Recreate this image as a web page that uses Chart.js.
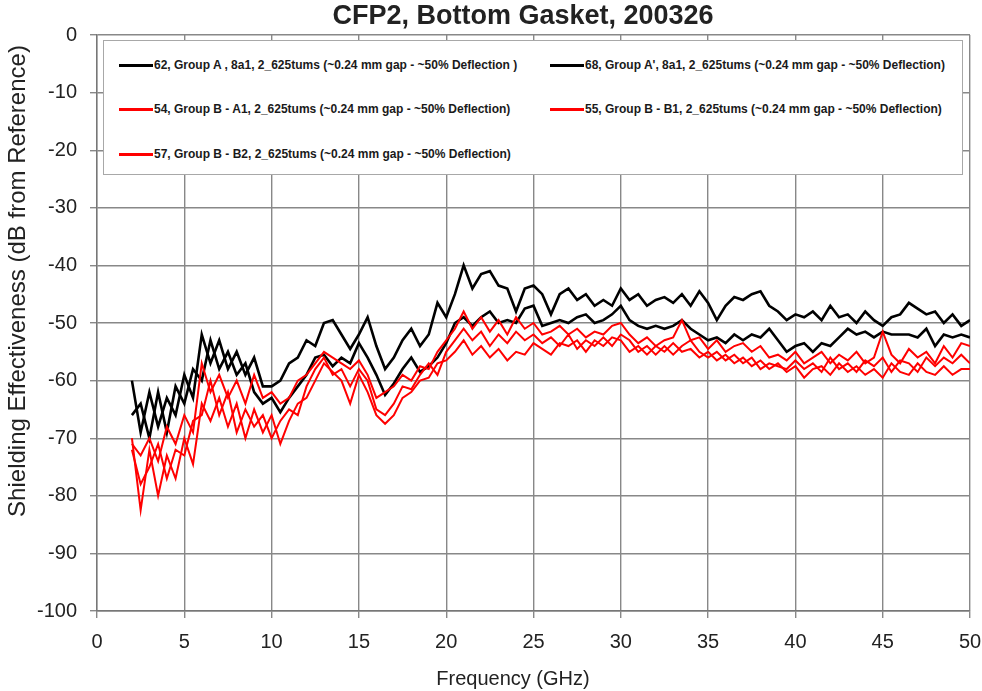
<!DOCTYPE html>
<html>
<head>
<meta charset="utf-8">
<script src="https://cdn.jsdelivr.net/npm/chart.js@4/dist/chart.umd.min.js"></script>
<style>
  body { margin: 0; background: #fff; }
  #wrap { position: relative; width: 982px; height: 691px; }
  #legend {
    position: absolute; left: 103px; top: 40px; width: 860px; height: 135px;
    box-sizing: border-box; border: 1px solid #a8a8a8; background: #fff;
    font: bold 12px "Liberation Sans", Arial, sans-serif; color: #1a1a1a;
  }
  .item { position: absolute; display: flex; align-items: center; white-space: nowrap; }
  .item i { display: inline-block; width: 34px; height: 3px; margin-right: 1px; }
</style>
</head>
<body>
<div id="wrap">
  <canvas id="chart" width="982" height="691"></canvas>
  <div id="legend"></div>
</div>
<script>
const freqGHz = [2, 2.5, 3, 3.5, 4, 4.5, 5, 5.5, 6, 6.5, 7, 7.5, 8, 8.5, 9, 9.5, 10, 10.5, 11, 11.5,
  12, 12.5, 13, 13.5, 14, 14.5, 15, 15.5, 16, 16.5, 17, 17.5, 18, 18.5, 19, 19.5, 20, 20.5, 21, 21.5,
  22, 22.5, 23, 23.5, 24, 24.5, 25, 25.5, 26, 26.5, 27, 27.5, 28, 28.5, 29, 29.5, 30, 30.5, 31, 31.5,
  32, 32.5, 33, 33.5, 34, 34.5, 35, 35.5, 36, 36.5, 37, 37.5, 38, 38.5, 39, 39.5, 40, 40.5, 41, 41.5,
  42, 42.5, 43, 43.5, 44, 44.5, 45, 45.5, 46, 46.5, 47, 47.5, 48, 48.5, 49, 49.5, 50];

const s62 = [-60, -69, -62, -68, -63, -66, -59, -63, -52, -57, -53, -58, -55, -59, -56, -61, -61, -60, -57, -56,
  -53, -54, -50, -49.5, -52, -54.5, -52, -49, -54, -58, -56, -53, -51, -54, -52, -46.5, -49, -45, -40, -44,
  -41.5, -41, -43.5, -44, -48, -44, -43.5, -45, -48.5, -45, -44, -46, -45, -47, -46, -47, -44, -46, -45, -47,
  -46, -45.5, -46.5, -45, -47, -44.5, -46.5, -49.5, -47, -45.5, -46, -45, -44.5, -47, -48, -49.5, -48.5, -49, -48, -49.5,
  -47, -49, -48.5, -50, -48, -49.5, -50.5, -49, -48.5, -46.5, -47.5, -48.5, -48, -50, -48.5, -50.5, -49.5];

const s68 = [-66, -64, -70, -62, -69, -61, -64, -58, -60, -53, -58, -55, -59, -57, -62, -64, -63, -65.5, -63, -61,
  -59, -56, -55.5, -57.5, -56, -57, -53.5, -56, -59, -62.5, -60.5, -58, -56, -58.5, -57.5, -56, -53.5, -50, -49, -50.5,
  -49, -48, -50, -49.5, -50, -47.5, -47, -50.5, -50, -49.5, -50, -49, -48.5, -50, -49.5, -48.5, -47, -49.5, -50.5, -51,
  -50.5, -51, -50.5, -49.5, -51, -52, -53, -52.5, -53.5, -52, -53, -52, -52.5, -51, -53, -55, -54, -53.5, -55, -53.5,
  -54, -52.5, -51, -52, -51.5, -52.5, -51.5, -52, -52, -52, -52.5, -51, -54, -52, -52.5, -52, -52.5];

const s54 = [-71, -73, -70, -74, -68, -71, -66, -69, -57, -62, -59, -63, -60, -64, -59, -63, -62, -64, -63, -60,
  -59, -57, -55, -56, -57, -58, -56.5, -59, -63, -62, -61, -59, -60, -57.5, -58, -55, -53, -51, -48, -51,
  -49, -51.5, -49.5, -52, -49, -51, -50, -52, -51.5, -50.5, -52, -51, -52.5, -51.5, -52, -50.5, -50, -52, -53.5, -52.5,
  -54, -53, -52.5, -49.5, -53, -52.5, -54.5, -53, -55, -54, -53.5, -55, -54, -56, -55.5, -56.5, -55, -57, -56, -55,
  -57, -55.5, -56.5, -55, -57, -56, -51.5, -55.5, -57, -54.5, -56, -55, -57, -54, -56, -53.5, -54];

const s55 = [-70, -82.5, -72, -80, -73, -77, -70, -74.5, -64, -67, -63, -68, -64, -70, -65, -69, -66, -71, -67, -64,
  -63, -60, -57, -58.5, -60, -64, -59, -62, -66, -67.5, -66, -63, -62, -60, -59.5, -57, -56.5, -55, -53, -55.5,
  -54, -56, -54.5, -56.5, -55, -55.5, -53.5, -54.5, -55.5, -53.5, -54, -53, -55, -53, -54, -52.5, -53, -55, -54, -55.5,
  -54, -55, -53.5, -55, -54.5, -56, -55, -56.5, -55.5, -57, -56, -57.5, -56.5, -58, -57, -58.5, -57.5, -59.5, -58, -57.5,
  -59, -57, -58.5, -57.5, -59, -58, -59.5, -57, -58.5, -59, -57, -58.5, -59, -57.5, -59, -58, -58];

const s57 = [-72, -78, -75, -71, -77, -72, -73, -67, -66, -60, -66, -62, -69, -65, -68, -66, -70, -67, -65, -66,
  -61, -58, -56, -59, -58, -61, -58, -60, -65, -66, -64, -61, -61.5, -59, -57, -59, -55, -53, -51, -53,
  -51.5, -54, -52, -53.5, -51.5, -53, -52, -53.5, -52.5, -54, -52, -54.5, -53, -54, -52.5, -54, -52, -53, -55, -54,
  -55.5, -54, -55.5, -54, -53, -55, -56, -55, -56.5, -55.5, -57, -56, -58, -57, -57.5, -58, -56.5, -58, -57, -58.5,
  -56, -58, -57, -58.5, -56.5, -57.5, -56, -58.5, -56.5, -57, -58.5, -56, -57.5, -56, -57, -55.5, -57];

const seriesLabels = [
  '62, Group A , 8a1, 2_625tums (~0.24 mm gap - ~50% Deflection )',
  "68, Group A', 8a1, 2_625tums (~0.24 mm gap - ~50% Deflection)",
  '54, Group B - A1, 2_625tums (~0.24 mm gap  - ~50% Deflection)',
  '55, Group B - B1, 2_625tums (~0.24 mm gap  - ~50% Deflection)',
  '57, Group B - B2, 2_625tums (~0.24 mm gap  - ~50% Deflection)'
];
const seriesValues = [s62, s68, s54, s55, s57];
const chartTitle = 'CFP2, Bottom Gasket, 200326';
const xTitle = 'Frequency (GHz)';
const yTitle = 'Shielding Effectiveness (dB from Reference)';

const FONT = '"Liberation Sans", Arial, sans-serif';
const BLACK = '#000000', RED = '#ff0000';
const seriesColors = [BLACK, BLACK, RED, RED, RED];

const datasets = seriesValues.map((vals, k) => ({
  label: seriesLabels[k],
  data: vals.map((v, i) => ({ x: freqGHz[i], y: v })),
  borderColor: seriesColors[k],
  borderWidth: seriesColors[k] === BLACK ? 2.6 : 2,
  pointRadius: 0,
  tension: 0,
  order: seriesColors[k] === BLACK ? 2 : 1
}));

// titles in the original are not centred on the plot, so place them by hand
function drawText(ctx, text, x, y, font, rot) {
  ctx.save();
  ctx.translate(x, y);
  if (rot) ctx.rotate(rot);
  ctx.font = font;
  ctx.fillStyle = '#222';
  ctx.textAlign = 'center';
  ctx.textBaseline = 'middle';
  ctx.fillText(text, 0, 0);
  ctx.restore();
}
const titlesPlugin = {
  id: 'titles',
  afterDraw(chart) {
    const ctx = chart.ctx;
    drawText(ctx, chartTitle, 523, 17, 'bold 27px ' + FONT, 0);
    drawText(ctx, xTitle, 513, 679, '20px ' + FONT, 0);
    drawText(ctx, yTitle, 18, 281, '24px ' + FONT, -Math.PI / 2);
  }
};

new Chart(document.getElementById('chart'), {
  type: 'line',
  data: { datasets },
  plugins: [titlesPlugin],
  options: {
    responsive: false,
    animation: false,
    layout: { padding: { top: 35 } },
    plugins: {
      legend: { display: false },
      tooltip: { enabled: false },
      title: { display: false }
    },
    scales: {
      x: {
        type: 'linear', min: 0, max: 50,
        ticks: { stepSize: 5, color: '#222', padding: 12, font: { family: FONT, size: 20 } },
        grid: { color: '#888', lineWidth: 1.4, tickLength: 7 },
        border: { color: '#777', width: 1.4 },
        afterFit: s => { s.height = 80; s.paddingLeft = 0; s.paddingRight = 12; }
      },
      y: {
        min: -100, max: 0,
        ticks: { stepSize: 10, color: '#222', padding: 13, font: { family: FONT, size: 20 } },
        grid: { color: '#888', lineWidth: 1.4, tickLength: 7 },
        border: { color: '#777', width: 1.4 },
        afterFit: s => { s.width = 97; s.paddingTop = 0; s.paddingBottom = 0; }
      }
    }
  }
});

// legend box drawn over the plot, two columns like the original
const legend = document.getElementById('legend');
const cols = [15, 446], rows = [24, 68, 113];
seriesLabels.forEach((lbl, k) => {
  const el = document.createElement('div');
  el.className = 'item';
  el.style.left = cols[k % 2] + 'px';
  el.style.top = (rows[Math.floor(k / 2)] - 7) + 'px';
  el.style.height = '14px';
  el.innerHTML = `<i style="background:${seriesColors[k]}"></i><span>${lbl}</span>`;
  legend.appendChild(el);
});
</script>
</body>
</html>
